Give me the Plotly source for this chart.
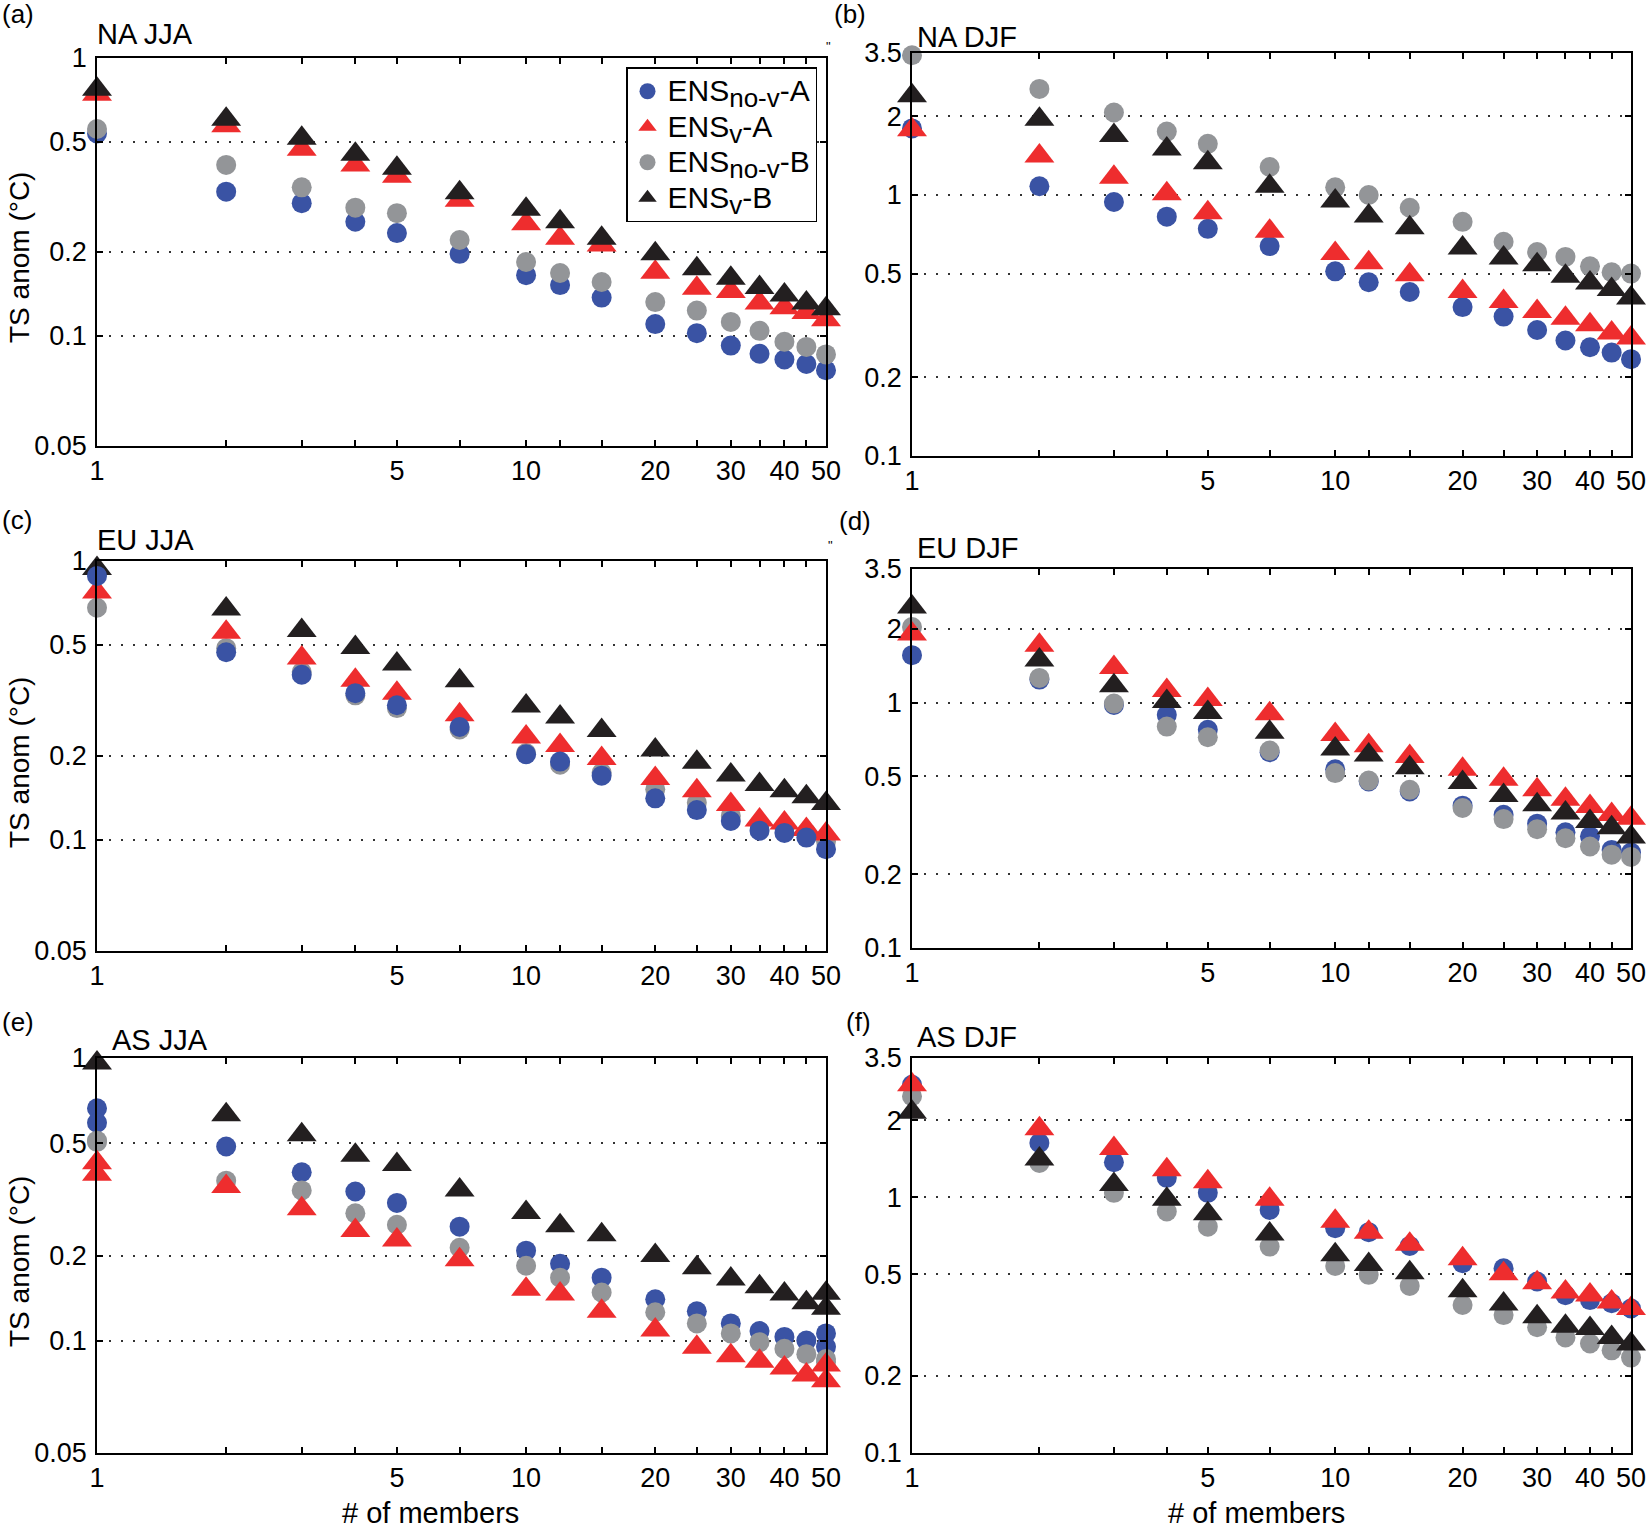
import math
import plotly.graph_objects as go

W, H = 1647, 1531

# number of ensemble members (same for every panel)
members = [1, 2, 3, 4, 5, 7, 10, 12, 15, 20, 25, 30, 35, 40, 45, 50]
# AS JJA shows an extra point at 1 and at 50
members_as_jja = [1, 1, 2, 3, 4, 5, 7, 10, 12, 15, 20, 25, 30, 35, 40, 45, 50, 50]
x_labels = [1, 5, 10, 20, 30, 40, 50]

jja_tickvals = [0.04, 0.1, 0.2, 0.5, 1]
jja_ticktext = ['0.05', '0.1', '0.2', '0.5', '1']
djf_tickvals = [0.1, 0.2, 0.5, 1, 2, 3.5]
djf_ticktext = ['0.1', '0.2', '0.5', '1', '2', '3.5']

# (a) NA JJA
na_jja_nov_a = [0.535, 0.33, 0.30, 0.257, 0.234, 0.197, 0.165, 0.152, 0.137, 0.110, 0.102, 0.092, 0.086, 0.082, 0.079, 0.075]
na_jja_v_a = [0.74, 0.57, 0.469, 0.412, 0.375, 0.307, 0.253, 0.224, 0.212, 0.169, 0.148, 0.144, 0.131, 0.126, 0.121, 0.114]
na_jja_nov_b = [0.555, 0.412, 0.342, 0.289, 0.276, 0.221, 0.184, 0.168, 0.156, 0.132, 0.123, 0.112, 0.104, 0.095, 0.091, 0.0855]
na_jja_v_b = [0.771, 0.602, 0.514, 0.45, 0.401, 0.327, 0.285, 0.257, 0.224, 0.197, 0.174, 0.161, 0.149, 0.140, 0.131, 0.125]

# (b) NA DJF
na_djf_nov_a = [1.80, 1.08, 0.94, 0.826, 0.742, 0.637, 0.51, 0.463, 0.425, 0.372, 0.342, 0.304, 0.277, 0.261, 0.249, 0.235]
na_djf_v_a = [1.78, 1.41, 1.17, 1.01, 0.855, 0.727, 0.597, 0.55, 0.495, 0.427, 0.391, 0.358, 0.337, 0.318, 0.296, 0.283]
na_djf_nov_b = [3.43, 2.55, 2.07, 1.75, 1.57, 1.28, 1.07, 1.0, 0.894, 0.789, 0.662, 0.605, 0.579, 0.533, 0.506, 0.50]
na_djf_v_b = [2.40, 1.95, 1.69, 1.50, 1.33, 1.08, 0.948, 0.83, 0.749, 0.627, 0.574, 0.541, 0.488, 0.46, 0.434, 0.403]

# (c) EU JJA
eu_jja_nov_a = [0.884, 0.471, 0.391, 0.336, 0.304, 0.254, 0.203, 0.191, 0.170, 0.141, 0.128, 0.117, 0.108, 0.106, 0.102, 0.0927]
eu_jja_v_a = [0.775, 0.555, 0.449, 0.374, 0.336, 0.281, 0.234, 0.218, 0.196, 0.166, 0.150, 0.134, 0.118, 0.115, 0.109, 0.105]
eu_jja_nov_b = [0.68, 0.487, 0.40, 0.33, 0.297, 0.249, 0.205, 0.186, 0.174, 0.152, 0.136, 0.122, 0.114, 0.111, 0.106, 0.099]
eu_jja_v_b = [0.94, 0.673, 0.564, 0.49, 0.427, 0.372, 0.302, 0.276, 0.247, 0.21, 0.19, 0.171, 0.158, 0.15, 0.143, 0.135]

# (d) EU DJF
eu_djf_nov_a = [1.56, 1.24, 0.978, 0.891, 0.774, 0.628, 0.535, 0.477, 0.434, 0.38, 0.349, 0.321, 0.296, 0.285, 0.251, 0.245]
eu_djf_v_a = [1.90, 1.71, 1.39, 1.12, 1.03, 0.90, 0.741, 0.667, 0.603, 0.535, 0.487, 0.441, 0.404, 0.377, 0.35, 0.338]
eu_djf_nov_b = [2.03, 1.26, 0.99, 0.798, 0.722, 0.638, 0.516, 0.481, 0.441, 0.372, 0.335, 0.305, 0.28, 0.259, 0.24, 0.235]
eu_djf_v_b = [2.45, 1.49, 1.17, 1.01, 0.91, 0.757, 0.646, 0.612, 0.543, 0.472, 0.418, 0.383, 0.355, 0.328, 0.309, 0.283]

# (e) AS JJA (uses members_as_jja)
as_jja_nov_a = [0.664, 0.59, 0.486, 0.394, 0.337, 0.307, 0.253, 0.208, 0.187, 0.167, 0.14, 0.127, 0.115, 0.108, 0.103, 0.100, 0.106, 0.095]
as_jja_v_a = [0.426, 0.388, 0.351, 0.293, 0.245, 0.227, 0.193, 0.152, 0.146, 0.127, 0.109, 0.0947, 0.0883, 0.0845, 0.080, 0.0755, 0.082, 0.072]
as_jja_nov_b = [0.51, 0.505, 0.368, 0.34, 0.282, 0.257, 0.213, 0.184, 0.167, 0.148, 0.126, 0.115, 0.106, 0.0987, 0.0935, 0.0895, 0.086, 0.084]
as_jja_v_b = [1.09, 0.96, 0.63, 0.535, 0.453, 0.42, 0.341, 0.284, 0.255, 0.237, 0.20, 0.181, 0.165, 0.155, 0.146, 0.136, 0.147, 0.130]

# (f) AS DJF
as_djf_nov_a = [2.75, 1.63, 1.37, 1.19, 1.04, 0.892, 0.756, 0.73, 0.645, 0.552, 0.527, 0.468, 0.414, 0.396, 0.385, 0.367]
as_djf_v_a = [2.75, 1.85, 1.55, 1.28, 1.15, 0.982, 0.805, 0.73, 0.655, 0.575, 0.502, 0.463, 0.426, 0.415, 0.389, 0.367]
as_djf_nov_b = [2.48, 1.36, 1.04, 0.879, 0.767, 0.641, 0.538, 0.497, 0.45, 0.379, 0.346, 0.31, 0.283, 0.268, 0.252, 0.236]
as_djf_v_b = [2.15, 1.41, 1.12, 0.982, 0.861, 0.718, 0.596, 0.545, 0.507, 0.431, 0.382, 0.341, 0.313, 0.307, 0.283, 0.267]

FONT = "Liberation Sans, Arial, Helvetica, sans-serif"
BLUE, RED, GRAY, BLACK = "#3A53A4", "#EE2D2E", "#939598", "#231F20"


def leg(main, subtext, tail):
    # legend label: big main text, near full-size subscript
    return ("<span style='font-size:30px'>" + main + "<sub><span style='font-size:26px'>"
            + subtext + "</span></sub>" + tail + "</span>")


# series style: name, colour, symbol, size, legend rank
series = {
    "nov_a": (leg("ENS", "no-v", "-A"), BLUE, "circle", 20, 1),
    "v_a": (leg("ENS", "v", "-A"), RED, "triangle-up", 26, 2),
    "nov_b": (leg("ENS", "no-v", "-B"), GRAY, "circle", 20, 3),
    "v_b": (leg("ENS", "v", "-B"), BLACK, "triangle-up", 26, 4),
}

# panel: (x values, data per series, draw order, axis suffix, x domain px, y domain px, kind)
panels = [
    (members, {"nov_a": na_jja_nov_a, "v_a": na_jja_v_a, "nov_b": na_jja_nov_b, "v_b": na_jja_v_b},
     ["nov_a", "nov_b", "v_a", "v_b"], "", (97, 826), (58, 446), "jja"),
    (members, {"nov_a": na_djf_nov_a, "v_a": na_djf_v_a, "nov_b": na_djf_nov_b, "v_b": na_djf_v_b},
     ["nov_a", "nov_b", "v_a", "v_b"], "2", (912, 1631), (53, 456), "djf"),
    (members, {"nov_a": eu_jja_nov_a, "v_a": eu_jja_v_a, "nov_b": eu_jja_nov_b, "v_b": eu_jja_v_b},
     ["nov_b", "v_a", "v_b", "nov_a"], "3", (97, 826), (561, 951), "jja"),
    (members, {"nov_a": eu_djf_nov_a, "v_a": eu_djf_v_a, "nov_b": eu_djf_nov_b, "v_b": eu_djf_v_b},
     ["nov_a", "nov_b", "v_a", "v_b"], "4", (912, 1631), (569, 948), "djf"),
    (members_as_jja, {"nov_a": as_jja_nov_a, "v_a": as_jja_v_a, "nov_b": as_jja_nov_b, "v_b": as_jja_v_b},
     ["nov_a", "nov_b", "v_a", "v_b"], "5", (97, 826), (1058, 1453), "jja"),
    (members, {"nov_a": as_djf_nov_a, "v_a": as_djf_v_a, "nov_b": as_djf_nov_b, "v_b": as_djf_v_b},
     ["nov_a", "nov_b", "v_a", "v_b"], "6", (912, 1631), (1058, 1453), "djf"),
]

fig = go.Figure()
layout_axes = {}
for i, (xs, data, order, suf, xdom, ydom, kind) in enumerate(panels):
    for key in order:
        name, color, symbol, size, rank = series[key]
        fig.add_trace(go.Scatter(
            x=xs, y=data[key], mode="markers", name=name,
            marker=dict(color=color, symbol=symbol, size=size, line=dict(width=0)),
            xaxis="x" + suf, yaxis="y" + suf, cliponaxis=False,
            showlegend=(i == 0), legendrank=rank,
        ))
    tv, tt = (jja_tickvals, jja_ticktext) if kind == "jja" else (djf_tickvals, djf_ticktext)
    layout_axes["xaxis" + suf] = dict(
        type="log", range=[0, math.log10(50)], domain=[xdom[0] / W, xdom[1] / W],
        anchor="y" + suf, tickmode="array", tickvals=x_labels,
        ticktext=[str(v) for v in x_labels],
        ticks="inside", ticklen=6, tickwidth=1.5, tickcolor="black",
        minor=dict(tickmode="array", tickvals=members, ticks="inside", ticklen=6,
                   tickwidth=1.5, tickcolor="black", showgrid=False),
        showline=True, linecolor="black", linewidth=1.5, mirror="ticks",
        showgrid=False, zeroline=False, automargin=False, ticklabelstandoff=0,
        tickfont=dict(size=27, color="black", family=FONT),
    )
    layout_axes["yaxis" + suf] = dict(
        type="log", range=[math.log10(tv[0]), math.log10(tv[-1])],
        domain=[1 - ydom[1] / H, 1 - ydom[0] / H],
        anchor="x" + suf, tickmode="array", tickvals=tv, ticktext=tt,
        ticks="inside", ticklen=6, tickwidth=1.5, tickcolor="black",
        showline=True, linecolor="black", linewidth=1.5, mirror="ticks",
        showgrid=True, gridcolor="#333333", gridwidth=1.5, griddash="2px,10px",
        zeroline=False, automargin=False, ticklabelstandoff=3,
        tickfont=dict(size=27, color="black", family=FONT),
    )


def note(text, x, y, xanchor="left", size=29, angle=0):
    return dict(text=text, x=x / W, y=1 - y / H, xref="paper", yref="paper",
                xanchor=xanchor, yanchor="middle", showarrow=False, textangle=angle,
                font=dict(size=size, color="black", family=FONT))


annotations = [
    note("(a)", 0, 14, size=26), note("(b)", 868, 14, "right", 26),
    note("(c)", 0, 520, size=26), note("(d)", 873, 521, "right", 26),
    note("(e)", 0, 1022, size=26), note("(f)", 873, 1022, "right", 26),
    note("NA JJA", 95, 34), note("NA DJF", 915, 37),
    note("EU JJA", 95, 540), note("EU DJF", 915, 548),
    note("AS JJA", 110, 1040), note("AS DJF", 915, 1037),
    note("TS anom (°C)", 19, 258, "center", 28, -90),
    note("TS anom (°C)", 19, 763, "center", 28, -90),
    note("TS anom (°C)", 19, 1262, "center", 28, -90),
    note("# of members", 430, 1513, "center", 29),
    note("# of members", 1256, 1513, "center", 29),
    note("\"", 828, 46, "center", 13), note("\"", 830, 545, "center", 13),
]

fig.update_layout(
    width=W, height=H, margin=dict(l=0, r=0, t=0, b=0, pad=0, autoexpand=False),
    paper_bgcolor="white", plot_bgcolor="white",
    font=dict(family=FONT, size=27, color="black"),
    legend=dict(x=626 / W, y=1 - 67 / H, xanchor="left", yanchor="top",
                bordercolor="black", borderwidth=1.5, bgcolor="white",
                font=dict(size=25, family=FONT), tracegroupgap=0),
    annotations=annotations,
    **layout_axes,
)

fig.write_html("out.html", config={"displayModeBar": False},
               post_script="document.body.style.margin='0';document.body.style.overflow='hidden';")
